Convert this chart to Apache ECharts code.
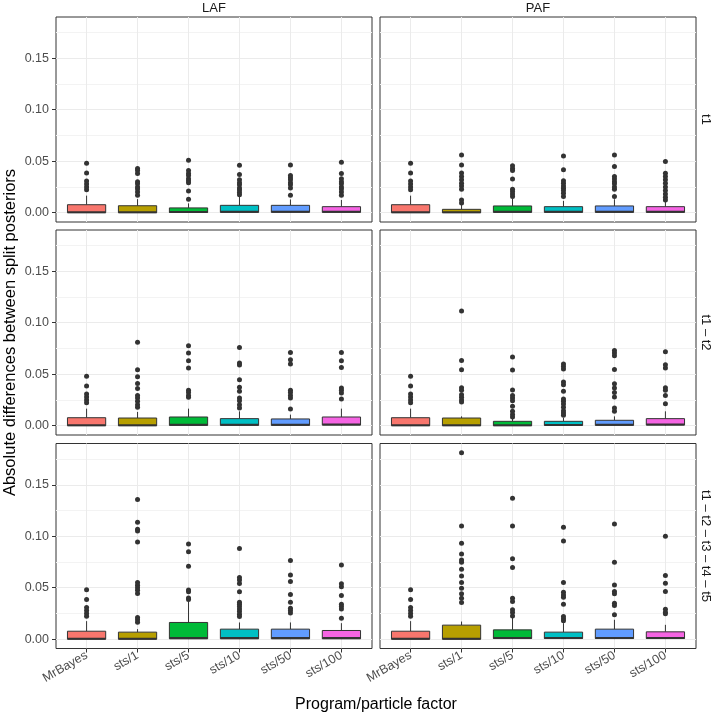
<!DOCTYPE html>
<html><head><meta charset="utf-8">
<script src="https://cdn.jsdelivr.net/npm/echarts@6/dist/echarts.min.js"></script>
<style>html,body{margin:0;padding:0;background:#fff}#c{width:714px;height:714px}</style>
</head><body><div id="c"></div>
<script>
// ---- data ----
const categories = ['MrBayes', 'sts/1', 'sts/5', 'sts/10', 'sts/50', 'sts/100'];
const methods = ['LAF', 'PAF'];
const splitSets = ['t1', 't1 – t2', 't1 – t2 – t3 – t4 – t5'];
const yTicks = [0, 0.05, 0.10, 0.15];
const yMinorTicks = [0.025, 0.075, 0.125, 0.175];
const palette = ['#F8766D', '#B79F00', '#00BA38', '#00BFC4', '#619CFF', '#F564E3'];

// boxes: [lower whisker, Q1, median, Q3, upper whisker]
const boxes_LAF_t1 = [
  [0, 0, 0.0004, 0.0077, 0.0165], [0, 0, 0.0004, 0.0067, 0.0131], [0, 0.0002, 0.0007, 0.0046, 0.0090],
  [0, 0.0003, 0.0008, 0.0071, 0.0152], [0, 0.0004, 0.0009, 0.0071, 0.0128], [0, 0.0003, 0.0008, 0.0058, 0.0123]];
const outliers_LAF_t1 = [
  [0.048, 0.0386, 0.0308, 0.0278, 0.0250, 0.0222],
  [0.043, 0.041, 0.038, 0.030, 0.028, 0.025, 0.023, 0.020, 0.017],
  [0.051, 0.041, 0.038, 0.036, 0.033, 0.031, 0.029, 0.021, 0.013],
  [0.046, 0.037, 0.032, 0.029, 0.027, 0.024, 0.022, 0.0195, 0.0175],
  [0.0464, 0.036, 0.034, 0.032, 0.029, 0.027, 0.024, 0.017],
  [0.049, 0.038, 0.033, 0.030, 0.028, 0.025, 0.023, 0.020, 0.017]];

const boxes_PAF_t1 = [
  [0, 0, 0.0004, 0.0077, 0.0165], [0, 0, 0.0004, 0.0032, 0.0075], [0, 0.0003, 0.0008, 0.0065, 0.0133],
  [0, 0.0003, 0.0008, 0.0058, 0.0114], [0, 0.0003, 0.0008, 0.0065, 0.0130], [0, 0.0003, 0.0008, 0.0058, 0.0107]];
const outliers_PAF_t1 = [
  [0.048, 0.0386, 0.0308, 0.0278, 0.0250, 0.0222],
  [0.056, 0.0464, 0.0386, 0.035, 0.032, 0.0286, 0.026, 0.0227, 0.0123, 0.0094],
  [0.0455, 0.043, 0.041, 0.0328, 0.0227, 0.0205, 0.018, 0.0156],
  [0.055, 0.0416, 0.031, 0.0286, 0.026, 0.0237, 0.0214, 0.0188, 0.0156],
  [0.056, 0.0448, 0.035, 0.0328, 0.030, 0.028, 0.025, 0.0227, 0.0156],
  [0.0497, 0.0383, 0.035, 0.032, 0.0286, 0.025, 0.0214, 0.018, 0.015, 0.0123]];

const boxes_LAF_t12 = [
  [0, 0, 0.0004, 0.0077, 0.0165], [0, 0, 0.0004, 0.0074, 0.0133], [0, 0.0003, 0.0008, 0.0084, 0.0165],
  [0, 0.0003, 0.0008, 0.0068, 0.0139], [0, 0.0003, 0.0008, 0.0065, 0.0107], [0, 0.0006, 0.0010, 0.0084, 0.0165]];
const outliers_LAF_t12 = [
  [0.048, 0.0386, 0.0308, 0.0278, 0.0250, 0.0222],
  [0.081, 0.0543, 0.0475, 0.041, 0.036, 0.0294, 0.0268, 0.0236, 0.0204, 0.0178],
  [0.0776, 0.0705, 0.063, 0.056, 0.0343, 0.0323, 0.0294, 0.0275],
  [0.076, 0.0608, 0.059, 0.0446, 0.0372, 0.0333, 0.0268, 0.0242, 0.0204, 0.0171],
  [0.071, 0.064, 0.0598, 0.0343, 0.0323, 0.0294, 0.0268, 0.0162],
  [0.071, 0.063, 0.0566, 0.0365, 0.0343, 0.0317, 0.026]];

const boxes_PAF_t12 = [
  [0, 0, 0.0004, 0.0077, 0.0165], [0, 0, 0.0004, 0.0074, 0.0090], [0, 0, 0.0004, 0.0042, 0.0075],
  [0, 0.0003, 0.0007, 0.0042, 0.0075], [0, 0.0003, 0.0008, 0.0052, 0.0090], [0, 0.0006, 0.0010, 0.0068, 0.0139]];
const outliers_PAF_t12 = [
  [0.048, 0.0386, 0.0308, 0.0278, 0.0250, 0.0222],
  [0.1115, 0.0634, 0.0543, 0.0369, 0.0343, 0.030, 0.0275, 0.025, 0.023],
  [0.0666, 0.054, 0.0346, 0.0294, 0.0268, 0.0242, 0.0188, 0.0139, 0.0107, 0.0084],
  [0.0598, 0.0575, 0.055, 0.0424, 0.0398, 0.0333, 0.026, 0.0236, 0.021, 0.0178, 0.0145, 0.0123, 0.010],
  [0.073, 0.0705, 0.068, 0.0546, 0.0407, 0.0365, 0.0323, 0.0278, 0.0171, 0.0139],
  [0.0718, 0.0592, 0.056, 0.0369, 0.0343, 0.0294, 0.0213]];

const boxes_LAF_t15 = [
  [0, 0, 0.0004, 0.0077, 0.0175], [0, 0, 0.0004, 0.0068, 0.0097], [0, 0.0003, 0.0012, 0.0162, 0.0365],
  [0, 0.0003, 0.0012, 0.0097, 0.0162], [0, 0.0003, 0.0012, 0.0097, 0.0162], [0, 0.0003, 0.0010, 0.0084, 0.0155]];
const outliers_LAF_t15 = [
  [0.048, 0.0386, 0.0308, 0.0278, 0.0250, 0.0222],
  [0.1358, 0.1135, 0.1067, 0.105, 0.0944, 0.055, 0.0524, 0.050, 0.0475, 0.0443, 0.021, 0.0188, 0.0165],
  [0.0925, 0.085, 0.0708, 0.0478, 0.046, 0.040, 0.0385],
  [0.088, 0.060, 0.0575, 0.054, 0.046, 0.0359, 0.034, 0.0317, 0.0294, 0.0268, 0.0242, 0.022],
  [0.0763, 0.0624, 0.056, 0.0433, 0.0359, 0.030, 0.0278, 0.0255],
  [0.072, 0.0537, 0.051, 0.0424, 0.034, 0.0317, 0.0294, 0.0204]];

const boxes_PAF_t15 = [
  [0, 0, 0.0004, 0.0077, 0.0175], [0, 0, 0.0004, 0.0136, 0.0171], [0, 0.0006, 0.0012, 0.0090, 0.0243],
  [0, 0.0006, 0.0010, 0.0068, 0.0155], [0, 0.0006, 0.0012, 0.0097, 0.0188], [0, 0.0006, 0.0010, 0.0071, 0.0139]];
const outliers_PAF_t15 = [
  [0.048, 0.0386, 0.0308, 0.0278, 0.0250, 0.0222],
  [0.181, 0.110, 0.0931, 0.0828, 0.077, 0.0747, 0.068, 0.0614, 0.055, 0.0495, 0.044, 0.0398, 0.0356],
  [0.1368, 0.110, 0.078, 0.0695, 0.0398, 0.0365, 0.0285, 0.0259, 0.0226],
  [0.1086, 0.0954, 0.055, 0.0456, 0.043, 0.0407, 0.034, 0.022, 0.0197, 0.0178],
  [0.1119, 0.0747, 0.0527, 0.0462, 0.044, 0.0349, 0.0327, 0.0236],
  [0.100, 0.0618, 0.0543, 0.0462, 0.0291, 0.0262, 0.0246]];

const panelBoxes = [[boxes_LAF_t1, boxes_PAF_t1], [boxes_LAF_t12, boxes_PAF_t12], [boxes_LAF_t15, boxes_PAF_t15]];
const panelOutliers = [[outliers_LAF_t1, outliers_PAF_t1], [outliers_LAF_t12, outliers_PAF_t12], [outliers_LAF_t15, outliers_PAF_t15]];

// ---- layout ----
const FONT = 'Liberation Sans, Arial, sans-serif';
const colLeft = [56, 380];
const rowTop = [17, 230, 443.5];
const panelW = 316, panelH = 205;
const yMin = -0.0091, yMax = 0.1901;
const catIdx = categories.map((_, i) => i + 1);

const grids = [], xAxes = [], yAxes = [], series = [], graphics = [];

function renderBox(params, api) {
  const x = api.value(0);
  const lo = api.coord([x, api.value(1)]);
  const q1 = api.coord([x, api.value(2)]);
  const md = api.coord([x, api.value(3)]);
  const q3 = api.coord([x, api.value(4)]);
  const hi = api.coord([x, api.value(5)]);
  const half = api.size([0.75, 0])[0] / 2;
  const cx = q1[0];
  return {
    type: 'group', children: [
      { type: 'line', shape: { x1: cx, y1: hi[1], x2: cx, y2: q3[1] }, style: { stroke: '#333', lineWidth: 1 } },
      { type: 'line', shape: { x1: cx, y1: q1[1], x2: cx, y2: lo[1] }, style: { stroke: '#333', lineWidth: 1 } },
      { type: 'rect', shape: { x: cx - half, y: q3[1], width: 2 * half, height: q1[1] - q3[1] },
        style: { fill: palette[params.dataIndex], stroke: '#333', lineWidth: 1 } },
      { type: 'line', shape: { x1: cx - half, y1: md[1], x2: cx + half, y2: md[1] }, style: { stroke: '#333', lineWidth: 2 } }
    ]
  };
}

for (let r = 0; r < 3; r++) {
  for (let c = 0; c < 2; c++) {
    const p = r * 2 + c;
    const bottom = r === 2, left = c === 0;
    grids.push({ left: colLeft[c], top: rowTop[r], width: panelW, height: panelH,
      show: true, borderColor: '#333', borderWidth: 1, backgroundColor: '#fff', containLabel: false });
    xAxes.push({
      type: 'value', gridIndex: p, min: 0.4, max: 6.6,
      axisLine: { show: false, onZero: false },
      axisTick: { show: bottom, customValues: catIdx, length: 4, lineStyle: { color: '#333' } },
      axisLabel: { show: bottom, customValues: catIdx, rotate: 30, margin: 6,
        formatter: v => categories[Math.round(v) - 1], color: '#4d4d4d', fontSize: 12.5, fontFamily: FONT },
      splitLine: { show: true, lineStyle: { color: '#ebebeb', width: 1 } }
    });
    yAxes.push({
      type: 'value', gridIndex: p, min: yMin, max: yMax, position: 'left',
      axisLine: { show: false, onZero: false },
      axisTick: { show: left, customValues: yTicks, length: 4, lineStyle: { color: '#333' } },
      axisLabel: { show: left, customValues: yTicks, margin: 7, formatter: v => v.toFixed(2),
        color: '#4d4d4d', fontSize: 12.5, fontFamily: FONT },
      splitLine: { show: true, lineStyle: { color: '#ebebeb', width: 1 } }
    });
    yAxes.push({
      type: 'value', gridIndex: p, min: yMin, max: yMax, position: 'right',
      axisLine: { show: false, onZero: false },
      axisTick: { show: false, customValues: yMinorTicks },
      axisLabel: { show: false },
      splitLine: { show: true, lineStyle: { color: '#f3f3f3', width: 1 } }
    });
    const bx = panelBoxes[r][c];
    series.push({
      type: 'custom', xAxisIndex: p, yAxisIndex: 2 * p, renderItem: renderBox,
      encode: { x: 0, y: [1, 2, 3, 4, 5] }, silent: true, z: 3,
      data: bx.map((b, i) => [catIdx[i]].concat(b))
    });
    const pts = [];
    panelOutliers[r][c].forEach((list, i) => list.forEach(v => pts.push([catIdx[i], v])));
    series.push({
      type: 'scatter', xAxisIndex: p, yAxisIndex: 2 * p, symbolSize: 5, silent: true, z: 4,
      itemStyle: { color: '#333', opacity: 1 }, data: pts
    });
  }
}

// strips
methods.forEach((m, c) => graphics.push({ type: 'text', x: colLeft[c] + panelW / 2, y: 8,
  style: { text: m, fill: '#1a1a1a', font: '13px ' + FONT, textAlign: 'center', textVerticalAlign: 'middle' } }));
splitSets.forEach((s, r) => graphics.push({ type: 'text', x: 706, y: rowTop[r] + panelH / 2, rotation: -Math.PI / 2,
  style: { text: s, fill: '#1a1a1a', font: '13px ' + FONT, textAlign: 'center', textVerticalAlign: 'middle' } }));
// axis titles
graphics.push({ type: 'text', x: 376, y: 705,
  style: { text: 'Program/particle factor', fill: '#000', font: '16px ' + FONT, textAlign: 'center', textVerticalAlign: 'middle' } });
graphics.push({ type: 'text', x: 10, y: 332.5, rotation: Math.PI / 2,
  style: { text: 'Absolute differences between split posteriors', fill: '#000', font: '16.5px ' + FONT, textAlign: 'center', textVerticalAlign: 'middle' } });

const chart = echarts.init(document.getElementById('c'), null, { renderer: 'canvas' });
chart.setOption({
  animation: false, backgroundColor: '#fff',
  grid: grids, xAxis: xAxes, yAxis: yAxes, series: series, graphic: graphics
});
</script></body></html>
